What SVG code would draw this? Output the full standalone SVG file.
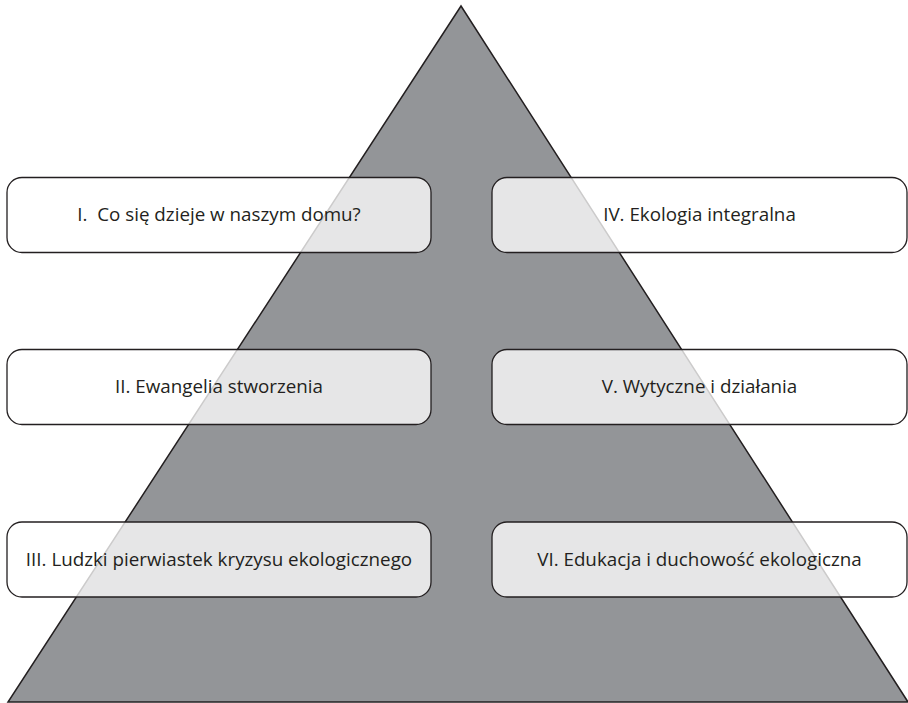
<svg xmlns="http://www.w3.org/2000/svg" width="908" height="703" viewBox="0 0 908 703">
<style>
.box{fill:#ffffff;fill-opacity:0.77;stroke:#231f20;stroke-width:1.3}
.lbl{font-family:"Open Sans","Noto Sans",sans-serif;font-size:18.8px;fill:#231f20;text-anchor:middle}
</style>
<rect width="908" height="703" fill="#ffffff"/>
<g id="pyramid">
<polygon points="461,6 8,702 908,702" fill="#939598" stroke="#231f20" stroke-width="1.5"/>
</g>
<g id="connectors"></g>
<g id="n1"><rect class="box" x="7" y="177.5" width="424" height="75" rx="15"/><text class="lbl" x="219" y="221">I.&#160; Co się dzieje w naszym domu?</text></g>
<g id="n2"><rect class="box" x="7" y="349.5" width="424" height="75" rx="15"/><text class="lbl" x="219" y="393">II. Ewangelia stworzenia</text></g>
<g id="n3"><rect class="box" x="7" y="522" width="424" height="75" rx="15"/><text class="lbl" x="219" y="566">III. Ludzki pierwiastek kryzysu ekologicznego</text></g>
<g id="n4"><rect class="box" x="492" y="177.5" width="415" height="75" rx="15"/><text class="lbl" x="699.5" y="221">IV. Ekologia integralna</text></g>
<g id="n5"><rect class="box" x="492" y="349.5" width="415" height="75" rx="15"/><text class="lbl" x="699.5" y="393">V. Wytyczne i działania</text></g>
<g id="n6"><rect class="box" x="492" y="522" width="415" height="75" rx="15"/><text class="lbl" x="699.5" y="566">VI. Edukacja i duchowość ekologiczna</text></g>
</svg>
